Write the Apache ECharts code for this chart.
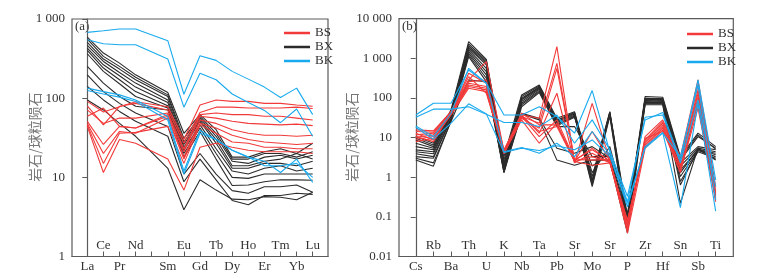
<!DOCTYPE html>
<html><head><meta charset="utf-8">
<script src="https://cdn.jsdelivr.net/npm/echarts@6/dist/echarts.min.js"></script>
<style>html,body{margin:0;padding:0;background:#fff}#c{width:772px;height:278px}</style>
</head><body><div id="c"></div>
<script>
// Panel (a) REE elements (Pm slot unlabeled, no data)
const elemA = ['La','Ce','Pr','Nd','','Sm','Eu','Gd','Tb','Dy','Ho','Er','Tm','Yb','Lu'];
const rowBottomA = [0,2,5,7,9,11,13];
const rowTopA = [1,3,6,8,10,12,14];
// Panel (b) trace elements
const elemB = ['Cs','Rb','Ba','Th','U','K','Nb','Ta','Pb','Sr','Mo','Sr','P','Zr','Hf','Sn','Sb','Ti'];
const rowBottomB = [0,2,4,6,8,10,12,14,16];
const rowTopB = [1,3,5,7,9,11,13,15,17];
const legendNames = ['BS','BX','BK'];
const yTicksA = [1,10,100,1000];
const yTicksB = [0.01,0.1,1,10,100,1000,10000];

const aBS = [
 [91,67,78,90,null,78,30,82,95,91,91,86,86,82,79],
 [80,46,79,86,null,71,27,66,77,77,75,75,75,77,74],
 [71,48,56,56,null,65,23,62,65,62,62,59,59,56,53],
 [59,75,44,42,null,62,21,59,56,51,48,47,46,47,45],
 [51,26,44,42,null,59,18,53,48,40,36,34,34,33,34],
 [48,20,38,36,null,56,17,48,42,34,30,28,27,26,27],
 [46,15,36,37,null,44,15,46,36,28,27,24,24,23,23],
 [44,11.5,30,27,null,17,6.9,24,27,24,22,21,21,21,20]
];
const aBX = [
 [592,371,277,197,null,118,36,62,40,18,18,21,23,20,27],
 [558,337,252,184,null,110,31,59,36,17,17,20,20,18,21],
 [507,312,233,171,null,105,28,56,33,16,15,18,19,17,19],
 [464,291,211,155,null,95,26,53,30,14,14,16,17,20,17],
 [430,264,192,138,null,88,24,51,27,13,13,15,15,14,16],
 [401,240,171,121,null,80,22,46,23,12,11,13,14,12,13],
 [364,218,152,105,null,75,20,42,20,10,9.7,11,11,11,11],
 [252,155,105,79,null,71,18,38,17,7.9,8.0,8.8,9.3,9.3,9.2],
 [197,121,86,65,null,44,11,20,11,6.8,6.3,7.6,7.6,8.0,6.5],
 [141,95,68,51,null,33,8.8,17,9.3,5.1,4.5,5.9,5.9,6.3,6.1],
 [95,71,48,33,null,13,3.9,9.3,6.9,5.3,5.2,5.7,5.6,5.2,6.5]
];
const aBK = [
 [678,711,747,747,null,532,112,343,300,218,174,138,102,134,62],
 [547,487,473,473,null,312,77,207,171,113,88,70,49,73,33],
 [134,121,110,95,null,59,12,39,30,22,18,16,11.5,17,8.6],
 [125,113,103,91,null,53,11,36,30,22,18,14,14,15,10]
];
const bBS = [
 [15.6,14.7,45,284,822,4.4,37,30.7,1960,2.3,73,2.7,0.047,10.6,27.9,3.3,284,0.58],
 [14.2,13.6,45,258,284,4.9,34,23,746,2.5,14.2,2.7,0.057,8.7,25.3,2.7,212,0.44],
 [11.7,12.9,43,234,193,4.4,30.7,17.2,558,2.6,5.4,2.5,0.070,7.9,23,2.3,159,0.36],
 [10.2,11.7,41,212,175,4.2,37,12.9,131,2.3,4.0,2.3,0.077,7.2,20.9,1.9,108,0.33],
 [9.1,10.6,39.5,193,159,4.0,34,10.6,27.9,2.8,2.7,2.8,0.063,6.5,18.9,1.7,73,0.30],
 [7.9,9.6,37,175,144,3.9,27.9,7.2,23,2.5,2.0,2.3,0.084,5.9,17.2,1.4,55,0.27],
 [12.9,8.7,45,344,131,4.7,41,20.9,20.9,2.7,4.9,2.6,0.039,5.4,15.6,1.3,89,0.24],
 [10.6,7.9,41,418,234,4.4,35,14.2,18.9,2.5,3.3,2.4,0.052,9.6,14.2,2.0,131,0.40]
];
const bBX = [
 [10.6,7.2,50,2620,941,3.3,119,212,30.7,45,1.04,45,0.10,108,104,3.3,12.9,5.9],
 [8.7,5.9,45,2290,871,2.7,108,200,27.9,43,0.86,43,0.084,98,96,2.7,10.6,5.4],
 [7.2,5.4,43,2040,806,2.3,98,185,25.3,39.5,0.71,41,0.070,92,89,2.3,5.9,4.9],
 [5.9,4.9,39.5,1780,677,1.9,89,175,23.9,37,0.64,37,0.057,89,86,1.9,5.4,4.4],
 [4.9,4.4,37,1620,558,1.7,81,165,22.1,35,0.58,34,0.047,86,81,1.5,4.9,4.0],
 [4.4,3.9,34,1470,460,1.5,73,153,20.9,34,1.3,5.9,0.12,81,79,1.3,5.1,3.7],
 [3.9,3.3,30.7,1330,379,1.4,67,144,19.7,32.5,1.9,4.0,0.10,76,76,1.04,4.7,3.3],
 [3.3,3.0,29,1210,313,1.3,60,136,18.9,18.9,3.3,3.3,0.084,73,73,0.78,4.4,3.0],
 [2.7,1.9,26.8,1100,258,1.3,41,30.7,5.4,4.0,5.9,3.0,0.063,71,71,0.64,5.1,2.7],
 [3.0,2.3,25.3,284,258,1.5,39.5,27.9,2.7,2.0,2.7,2.7,0.039,67,67,0.22,5.4,2.8],
 [9.6,6.5,41,1890,746,2.0,92,185,26.8,41,0.78,43,0.063,96,92,3.0,11.7,5.1]
];
const bBK = [
 [37,73,73,507,234,37,37,60,34,12.9,153,4.4,0.33,27.9,43,2.7,284,0.86],
 [32.5,52,52,60,38.7,23.9,23.9,18.9,37,7.2,27.9,4.9,0.24,32.5,37,2.3,89,0.58],
 [19.7,10.6,41,558,234,4.4,5.6,4.0,7.2,3.3,14.2,3.7,0.18,5.9,13.4,0.17,73,0.14],
 [18.2,9.1,23,71,39.5,4.2,5.4,4.7,6.2,4.9,8.7,3.3,0.22,5.4,12.9,3.3,212,0.27]
];

const COL = {BS:'#f23a3a', BX:'#2b2b2b', BK:'#19aaee'};
const SERIF = 'Liberation Serif, Times New Roman, serif';
const AX = '#5a5a5a';

function fmtY(v){
  if (v >= 1000) return String(Math.round(v)).replace(/\B(?=(\d{3})+(?!\d))/g,' ');
  return String(+(+v).toPrecision(3));
}
function mkSeries(rows, name, xi, yi){
  return rows.map(r => ({
    type:'line', name:name, xAxisIndex:xi, yAxisIndex:yi,
    data: r.map((v,i) => v == null ? null : [i, v]),
    connectNulls:true, symbol:'none', silent:true,
    lineStyle:{color:COL[name], width:1.1}, itemStyle:{color:COL[name]}
  }));
}
function xAxes(grid, ticks, bottom, top, labels, min, max){
  return [
    {type:'value', gridIndex:grid, position:'bottom', min:min, max:max,
     axisLine:{show:true, lineStyle:{color:AX, width:1.2}},
     axisTick:{show:true, inside:true, length:5, customValues:ticks, lineStyle:{color:AX}},
     axisLabel:{customValues:bottom, formatter:v=>labels[v], margin:4, fontFamily:SERIF, fontSize:13, color:'#333'},
     splitLine:{show:false}},
    {type:'value', gridIndex:grid, position:'bottom', min:min, max:max,
     axisLine:{show:false}, axisTick:{show:false},
     axisLabel:{inside:true, customValues:top, formatter:v=>labels[v], margin:4, fontFamily:SERIF, fontSize:13, color:'#333'},
     splitLine:{show:false}}
  ];
}
function yAxis(grid, min, max, ticks){
  return {type:'log', logBase:10, gridIndex:grid, min:min, max:max,
    axisLine:{show:true, lineStyle:{color:AX, width:1.2}},
    axisTick:{show:true, inside:false, length:5, customValues:ticks, lineStyle:{color:AX}},
    axisLabel:{customValues:ticks, formatter:fmtY, margin:7, fontFamily:SERIF, fontSize:13, color:'#333'},
    minorTick:{show:false}, splitLine:{show:false}};
}

const ticksA = elemA.map((_,i)=>i);
const ticksB = elemB.map((_,i)=>i);

const series = [].concat(
  mkSeries(aBX,'BX',0,0), mkSeries(aBS,'BS',0,0), mkSeries(aBK,'BK',0,0),
  mkSeries(bBX,'BX',2,1), mkSeries(bBS,'BS',2,1), mkSeries(bBK,'BK',2,1)
);

const legendCommon = {orient:'vertical', icon:'rect', itemWidth:26, itemHeight:2.5, itemGap:0,
  data:legendNames, selectedMode:false,
  textStyle:{fontFamily:SERIF, fontSize:13, color:'#333', lineHeight:14}};

const chart = echarts.init(document.getElementById('c'), null, {renderer:'canvas'});
chart.setOption({
  animation:false,
  backgroundColor:'#fff',
  grid:[
    {left:72, right:444, top:19, bottom:21.5, show:true, borderColor:AX, borderWidth:1.2},
    {left:399, right:38.7, top:18.6, bottom:21.5, show:true, borderColor:AX, borderWidth:1.2}
  ],
  xAxis: [].concat(
    xAxes(0, ticksA, rowBottomA, rowTopA, elemA, -0.95, 14.95),
    xAxes(1, ticksB, rowBottomB, rowTopB, elemB, -0.95, 18)
  ),
  yAxis:[ yAxis(0, 1, 1000, yTicksA), yAxis(1, 0.01, 10000, yTicksB) ],
  legend:[
    Object.assign({left:279, top:21}, legendCommon),
    Object.assign({left:682, top:22}, legendCommon)
  ],
  graphic:[
    {type:'text', left:75, top:20, style:{text:'(a)', font:'13px '+SERIF, fill:'#333'}},
    {type:'text', left:402, top:20, style:{text:'(b)', font:'13px '+SERIF, fill:'#333'}},
    {type:'text', x:35, y:137, rotation:Math.PI/2,
     style:{text:'岩石/球粒陨石', align:'center', verticalAlign:'middle', font:'14px "Noto Sans CJK SC"', fill:'#777'}},
    {type:'text', x:352, y:137, rotation:Math.PI/2,
     style:{text:'岩石/球粒陨石', align:'center', verticalAlign:'middle', font:'14px "Noto Sans CJK SC"', fill:'#777'}}
  ],
  series: series
});
</script></body></html>
